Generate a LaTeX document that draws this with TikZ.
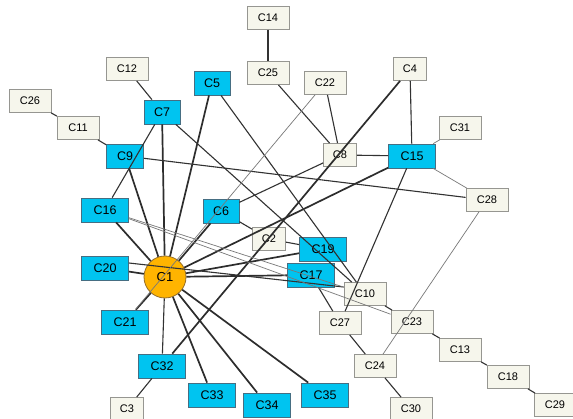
\documentclass[tikz,border=0pt]{standalone}
\usepackage{fontspec}
\setmainfont{Liberation Sans}
\definecolor{bfill}{RGB}{0,196,240}
\definecolor{bdraw}{RGB}{70,110,130}
\definecolor{lfill}{RGB}{246,246,236}
\definecolor{ldraw}{RGB}{150,150,145}
\definecolor{ofill}{RGB}{255,180,0}
\definecolor{odraw}{RGB}{150,110,40}
\definecolor{edgec}{RGB}{50,50,50}
\definecolor{thinc}{RGB}{120,120,120}
\tikzset{
  lnode/.style={draw=ldraw,fill=lfill,line width=0.8pt,minimum width=42pt,minimum height=23pt,inner sep=0pt,font=\fontsize{11}{13}\selectfont},
  lsnode/.style={lnode,minimum width=33pt},
  bnode/.style={draw=bdraw,fill=bfill,line width=0.8pt,minimum width=47pt,minimum height=24pt,inner sep=0pt,font=\fontsize{12.5}{14}\selectfont},
  bsnode/.style={bnode,minimum width=36pt},
  cnode/.style={circle,draw=odraw,fill=ofill,line width=0.8pt,minimum size=42pt,inner sep=0pt,font=\fontsize{13}{15}\selectfont},
  ed/.style={draw=edgec,line width=1.1pt},
  edk/.style={draw=edgec!90!black,line width=1.7pt},
  edt/.style={draw=thinc,line width=0.7pt}
}
\begin{document}
\begin{tikzpicture}[x=1pt,y=-1pt]
\useasboundingbox (0,0) rectangle (573,419);
\fill[white] (0,0) rectangle (573,419);
% nodes
\node[lnode] (C14) at (268,18) {C14};
\node[lnode] (C25) at (268,73) {C25};
\node[lnode] (C12) at (127,69) {C12};
\node[bsnode] (C5) at (212,83) {C5};
\node[bsnode] (C7) at (162,112) {C7};
\node[lnode] (C26) at (30,101) {C26};
\node[lnode] (C11) at (78,128) {C11};
\node[bsnode,minimum width=37pt] (C9) at (125,156) {C9};
\node[bnode] (C16) at (105,210) {C16};
\node[bsnode] (C6) at (221,211) {C6};
\node[lnode] (C22) at (325,83) {C22};
\node[lsnode] (C4) at (410,69) {C4};
\node[lnode] (C31) at (460,128) {C31};
\node[lsnode] (C8) at (340,155) {C8};
\node[bnode] (C15) at (412,156) {C15};
\node[lnode] (C28) at (487,200) {C28};
\node[bnode] (C20) at (105,268) {C20};
\node[bnode] (C21) at (125,322) {C21};
\node[bnode] (C32) at (162,366) {C32};
\node[bnode] (C33) at (212,395) {C33};
\node[bnode] (C34) at (267,405) {C34};
\node[lsnode] (C3) at (127,409) {C3};
\node[lsnode] (C2) at (269,239) {C2};
\node[bnode] (C19) at (323,249) {C19};
\node[bnode] (C17) at (311,275) {C17};
\node[lnode] (C10) at (365,294) {C10};
\node[lnode] (C27) at (340,323) {C27};
\node[lnode] (C23) at (412,322) {C23};
\node[lnode] (C13) at (460,350) {C13};
\node[lnode] (C18) at (508,377) {C18};
\node[lnode] (C29) at (555,405) {C29};
\node[lnode] (C24) at (375,366) {C24};
\node[lnode] (C30) at (411,409) {C30};
\node[bnode] (C35) at (325,395) {C35};
\node[cnode] (C1) at (165,277) {C1};
% thick edges from C1
\draw[edk] (C1) -- (C7);
\draw[edk] (C1) -- (C5);
\draw[edk] (C1) -- (C9);
\draw[edk] (C1) -- (C16);
\draw[edk] (C1) -- (C20);
\draw[edk] (C1) -- (C21);
\draw[ed]  (C1) -- (C32);
\draw[edk] (C1) -- (C33);
\draw[edk] (C1) -- (C34);
\draw[edk] (C1) -- (C35);
\draw[edk] (C1) -- (C6);
\draw[edk] (C1) -- (C15);
\draw[edk] (C1) -- (C19);
\draw[edk] (C1) -- (C17);
\draw[edk] (C32) -- (C4);
% normal edges
\draw[ed] (C14) -- (C25);
\draw[ed] (C25) -- (C8);
\draw[ed] (C22) -- (C8);
\draw[ed] (C8) -- (C15);
\draw[ed] (C4) -- (C15);
\draw[ed] (C6) -- (C8);
\draw[ed] (C6) -- (C2);
\draw[ed] (C2) -- (C19);
\draw[ed] (C12) -- (C7);
\draw[ed] (C26) -- (C11);
\draw[ed] (C11) -- (C9);
\draw[ed] (C9) -- (C28);
\draw[ed] (C7) -- (C16);
\draw[ed] (C7) -- (C10);
\draw[ed] (C5) -- (C10);
\draw[ed] ([yshift=5pt]C20.east) -- ([yshift=7pt]C10.west);
\draw[ed] (C15) -- (C27);
\draw[ed] (C17) -- (C27);
\draw[ed] (C10) -- (C23);
\draw[ed] (C27) -- (C24);
\draw[ed] (C24) -- (C30);
\draw[ed] (C23) -- (C13);
\draw[ed] (C13) -- (C18);
\draw[ed] (C18) -- (C29);
\draw[ed] (C32) -- (C3);
% thin edges
\draw[edt] (C22) -- (C21);
\draw[edt] (C16) -- (C23);
\draw[edt] (C16) -- (C10);
\draw[edt] (C31) -- (C15);
\draw[edt] (C15) -- (C28);
\draw[edt] (C28) -- (C24);
\end{tikzpicture}
\end{document}
